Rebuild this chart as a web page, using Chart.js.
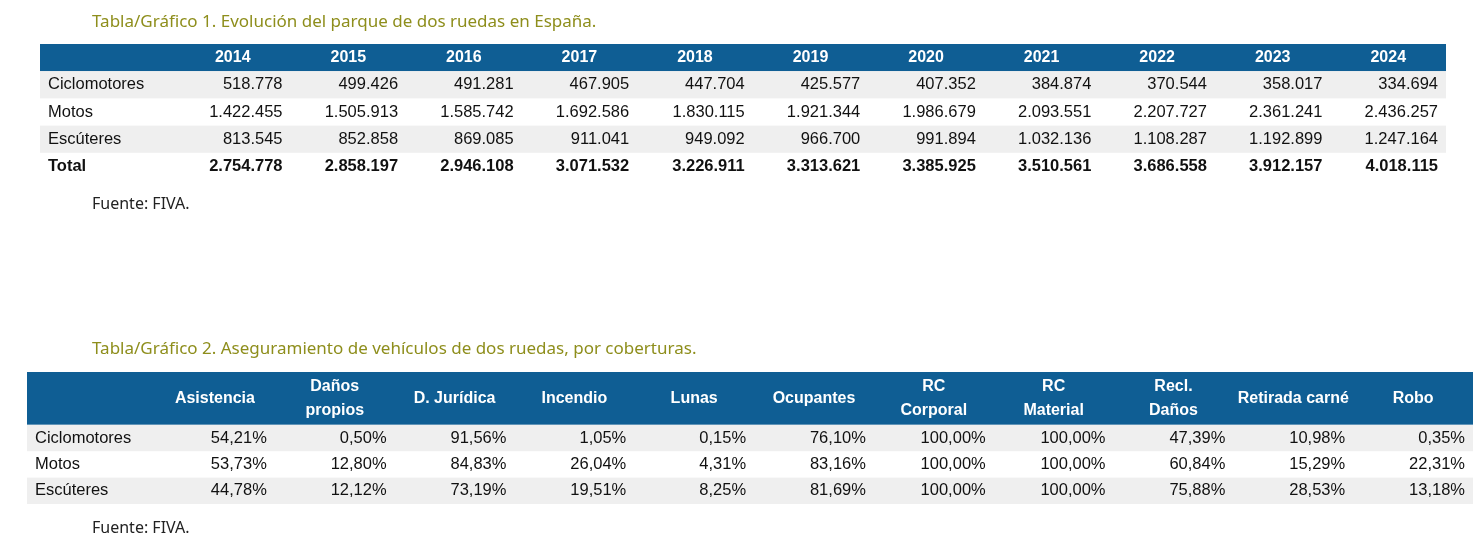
<!DOCTYPE html>
<html>
<head>
<meta charset="utf-8">
<script src="https://cdn.jsdelivr.net/npm/chart.js@4"></script>
<style>
body{margin:0;background:#fff;}
canvas{position:absolute;left:0;}
</style>
</head>
<body>
<canvas id="t1" width="1481" height="230" style="top:0"></canvas>
<canvas id="t2" width="1481" height="307" style="top:230px"></canvas>
<script>
const title1 = "Tabla/Gráfico 1. Evolución del parque de dos ruedas en España.";
const title2 = "Tabla/Gráfico 2. Aseguramiento de vehículos de dos ruedas, por coberturas.";
const source = "Fuente: FIVA.";

const years = ["2014","2015","2016","2017","2018","2019","2020","2021","2022","2023","2024"];
const rows1 = ["Ciclomotores","Motos","Escúteres","Total"];
const ciclomotores = [518778,499426,491281,467905,447704,425577,407352,384874,370544,358017,334694];
const motos = [1422455,1505913,1585742,1692586,1830115,1921344,1986679,2093551,2207727,2361241,2436257];
const escuteres = [813545,852858,869085,911041,949092,966700,991894,1032136,1108287,1192899,1247164];
const total = [2754778,2858197,2946108,3071532,3226911,3313621,3385925,3510561,3686558,3912157,4018115];

const coverages = [["Asistencia"],["Daños","propios"],["D. Jurídica"],["Incendio"],["Lunas"],["Ocupantes"],["RC","Corporal"],["RC","Material"],["Recl.","Daños"],["Retirada carné"],["Robo"]];
const rows2 = ["Ciclomotores","Motos","Escúteres"];
const pctCiclo = [54.21,0.50,91.56,1.05,0.15,76.10,100.00,100.00,47.39,10.98,0.35];
const pctMotos = [53.73,12.80,84.83,26.04,4.31,83.16,100.00,100.00,60.84,15.29,22.31];
const pctEscut = [44.78,12.12,73.19,19.51,8.25,81.69,100.00,100.00,75.88,28.53,13.18];

const BLUE = "#0f5e94", OLIVE = "#8e8e1c", STRIPE = "#efefef";
const FONT = '"Liberation Sans", Arial, sans-serif';

function fmtInt(v){ return String(v).replace(/\B(?=(\d{3})+(?!\d))/g, "."); }
function fmtPct(v){ return v.toFixed(2).replace(".", ",") + "%"; }

function tablePlugin(cfg){
  return {
    id: "table",
    afterDraw(chart){
      const ctx = chart.ctx, x = chart.scales.x, y = chart.scales.y;
      const area = chart.chartArea;
      const rowH = y.getPixelForValue(1) - y.getPixelForValue(0);
      const colW = x.getPixelForValue(1) - x.getPixelForValue(0);
      ctx.save();
      // title
      ctx.font = '17px "Noto Sans", "Open Sans", sans-serif';
      ctx.fillStyle = OLIVE; ctx.textBaseline = "middle"; ctx.textAlign = "left";
      ctx.fillText(cfg.title, 92, cfg.titleY);
      // header bar
      const hTop = area.top, hBot = y.getPixelForValue(cfg.headRows - 1) + rowH / 2;
      ctx.fillStyle = BLUE;
      ctx.fillRect(cfg.left, hTop, area.right - cfg.left, hBot - hTop);
      ctx.fillStyle = "#fff"; ctx.font = "bold 16px " + FONT; ctx.textAlign = "center";
      const hMid = (hTop + hBot) / 2;
      cfg.head.forEach((h, i) => {
        const cx = x.getPixelForValue(i);
        const lines = Array.isArray(h) ? h : [h];
        lines.forEach((l, k) => ctx.fillText(l, cx, hMid + (k - (lines.length - 1) / 2) * 24));
      });
      // body
      cfg.rows.forEach((r, ri) => {
        const cy = y.getPixelForValue(cfg.headRows + ri);
        if (ri % 2 === 0) {
          ctx.fillStyle = STRIPE;
          ctx.fillRect(cfg.left, cy - rowH / 2, area.right - cfg.left, rowH);
        }
        const bold = r === "Total";
        ctx.font = (bold ? "bold " : "") + "16.5px " + FONT;
        ctx.fillStyle = "#111"; ctx.textAlign = "left";
        ctx.fillText(r, cfg.left + 8, cy);
        ctx.textAlign = "right";
        cfg.values[ri].forEach((v, ci) => {
          ctx.fillText(cfg.fmt(v), x.getPixelForValue(ci) + colW / 2 - 8, cy);
        });
      });
      ctx.font = '16px "Noto Sans", "Open Sans", sans-serif';
      ctx.textAlign = "left"; ctx.fillStyle = "#222";
      ctx.fillText(source, 92, cfg.sourceY);
      ctx.restore();
    }
  };
}

function makeTable(id, cfg, yLabels, padding){
  new Chart(document.getElementById(id), {
    type: "bar",
    data: { labels: cfg.head.map(h => [].concat(h).join(" ")), datasets: [{ data: [] }] },
    options: {
      responsive: false, animation: false, events: [],
      layout: { padding },
      plugins: { legend: { display: false }, tooltip: { enabled: false } },
      scales: {
        x: { type: "category", display: false, offset: true },
        y: { type: "category", labels: yLabels, display: false, offset: true }
      }
    },
    plugins: [tablePlugin(cfg)]
  });
}

makeTable("t1", {
  title: title1, titleY: 22, left: 40, head: years, headRows: 1,
  rows: rows1, values: [ciclomotores, motos, escuteres, total], fmt: fmtInt, sourceY: 204
}, ["h"].concat(rows1), { left: 175, right: 35, top: 44, bottom: 50 });

makeTable("t2", {
  title: title2, titleY: 119, left: 27, head: coverages, headRows: 2,
  rows: rows2, values: [pctCiclo, pctMotos, pctEscut], fmt: fmtPct, sourceY: 298
}, ["h1","h2"].concat(rows2), { left: 155, right: 8, top: 142, bottom: 33 });
</script>
</body>
</html>
